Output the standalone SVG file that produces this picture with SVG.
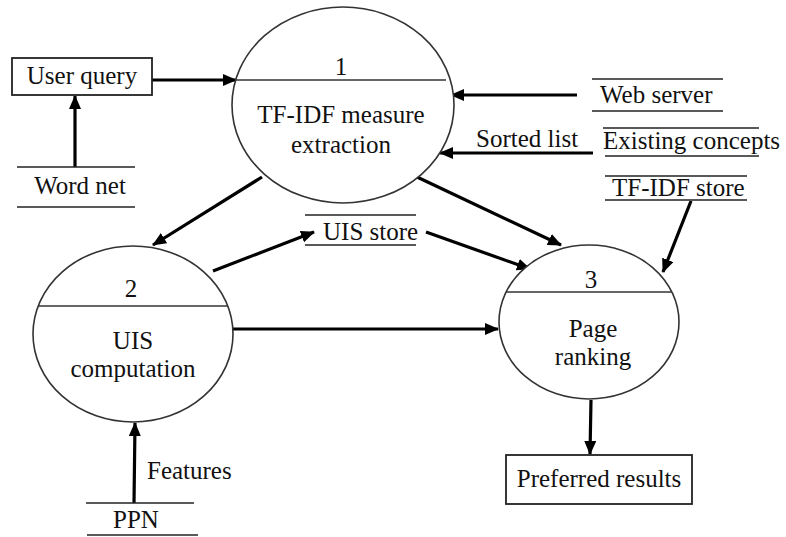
<svg xmlns="http://www.w3.org/2000/svg" width="786" height="537" viewBox="0 0 786 537">
<defs>
<marker id="ah" markerUnits="userSpaceOnUse" markerWidth="14" markerHeight="12" refX="13" refY="6" orient="auto">
<path d="M0,0 L14,6 L0,12 Z" fill="#000"/>
</marker>
</defs>
<style>
text{font-family:'Liberation Serif','Times New Roman',Times,'DejaVu Serif',serif;font-size:25px;fill:#111}
.c{text-anchor:middle}
.proc{fill:#fff;stroke:#333;stroke-width:1.6}
.div{stroke:#333;stroke-width:1.6}
.store{stroke:#222;stroke-width:1.6}
.box{fill:#fff;stroke:#222;stroke-width:1.8}
.flow{stroke:#000;stroke-width:3.2;fill:none;marker-end:url(#ah)}
</style>
<rect width="786" height="537" fill="#fff"/>

<g id="connectors">
<line class="flow" x1="152" y1="80" x2="236" y2="80"/>
<line class="flow" x1="75" y1="167" x2="75" y2="96"/>
<line class="flow" x1="577" y1="95" x2="451" y2="95"/>
<line class="flow" x1="593" y1="153" x2="440" y2="153"/>
<line class="flow" x1="691" y1="201" x2="663" y2="272"/>
<line class="flow" x1="262" y1="177" x2="153" y2="245"/>
<line class="flow" x1="417" y1="177" x2="561" y2="245"/>
<line class="flow" x1="213" y1="271" x2="314" y2="232"/>
<line class="flow" x1="426" y1="232" x2="530" y2="269"/>
<line class="flow" x1="233" y1="329" x2="498" y2="329"/>
<line class="flow" x1="591" y1="400" x2="590" y2="454"/>
<line class="flow" x1="134" y1="503" x2="135" y2="423"/>
<text x="476" y="147">Sorted list</text>
<text x="147" y="479">Features</text>
</g>

<g id="p1">
<ellipse class="proc" cx="343" cy="105" rx="111" ry="98"/>
<line class="div" x1="236" y1="80" x2="446" y2="80"/>
<text class="c" x="341" y="75">1</text>
<text class="c" x="341" y="123">TF-IDF measure</text>
<text class="c" x="341" y="153">extraction</text>
</g>

<g id="p2">
<ellipse class="proc" cx="133" cy="334" rx="100" ry="88"/>
<line class="div" x1="38" y1="306" x2="228" y2="306"/>
<text class="c" x="131" y="297">2</text>
<text class="c" x="133" y="349">UIS</text>
<text class="c" x="133" y="377">computation</text>
</g>

<g id="p3">
<ellipse class="proc" cx="589" cy="322" rx="90" ry="77"/>
<line class="div" x1="506" y1="292" x2="672" y2="292"/>
<text class="c" x="591" y="288">3</text>
<text class="c" x="593" y="337">Page</text>
<text class="c" x="593" y="365">ranking</text>
</g>

<g id="user-query">
<rect class="box" x="12" y="58" width="140" height="37"/>
<text class="c" x="82" y="84">User query</text>
</g>

<g id="word-net">
<line class="store" x1="17" y1="167" x2="135" y2="167"/>
<line class="store" x1="17" y1="207" x2="135" y2="207"/>
<text class="c" x="80" y="194">Word net</text>
</g>

<g id="web-server">
<line class="store" x1="592" y1="79" x2="723" y2="79"/>
<line class="store" x1="592" y1="111" x2="723" y2="111"/>
<text x="600" y="103">Web server</text>
</g>

<g id="existing-concepts">
<line class="store" x1="603" y1="128" x2="759" y2="128"/>
<line class="store" x1="605" y1="156" x2="759" y2="156"/>
<text x="603" y="149">Existing concepts</text>
</g>

<g id="tfidf-store">
<line class="store" x1="605" y1="176" x2="747" y2="176"/>
<line class="store" x1="605" y1="200" x2="747" y2="200"/>
<text x="612" y="196">TF-IDF store</text>
</g>

<g id="uis-store">
<line class="store" x1="305" y1="215" x2="416" y2="215"/>
<line class="store" x1="305" y1="245" x2="416" y2="245"/>
<text x="323" y="240">UIS store</text>
</g>

<g id="ppn">
<line class="store" x1="86" y1="503" x2="194" y2="503"/>
<line class="store" x1="87" y1="535" x2="198" y2="535"/>
<text class="c" x="136" y="528">PPN</text>
</g>

<g id="preferred-results">
<rect class="box" x="506" y="455" width="186" height="49"/>
<text class="c" x="599" y="487">Preferred results</text>
</g>
</svg>
